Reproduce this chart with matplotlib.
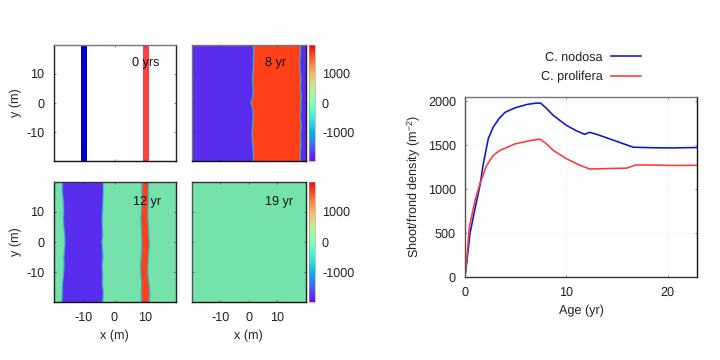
import matplotlib
matplotlib.use("Agg")
import matplotlib.pyplot as plt
import numpy as np
from matplotlib.colors import Normalize, LinearSegmentedColormap
from matplotlib.cm import ScalarMappable

plt.rcParams['font.family'] = ['Liberation Sans', 'DejaVu Sans']
plt.rcParams['font.size'] = 9.1
plt.rcParams['axes.unicode_minus'] = False
plt.rcParams['mathtext.fontset'] = 'custom'
plt.rcParams['mathtext.rm'] = 'Liberation Sans'
plt.rcParams['mathtext.default'] = 'regular'
plt.rcParams['text.hinting'] = 'none'

# --- Line panel data
age_nodosa = [0, 0.16, 0.49, 0.99, 1.48, 1.81, 2.3, 2.8, 3.4, 3.95, 4.9, 6.1, 7.0, 7.47, 8.0, 8.7, 10, 11, 11.8, 12.3, 13, 14.6, 16.6, 18.6, 20.5, 23]
dens_nodosa = [0, 152, 494, 779, 1044, 1291, 1576, 1710, 1810, 1875, 1925, 1965, 1980, 1980, 1925, 1842, 1728, 1665, 1625, 1648, 1625, 1560, 1478, 1472, 1470, 1475]
age_prolifera = [0, 0.16, 0.43, 0.99, 1.48, 2.14, 2.8, 3.45, 4.4, 4.9, 6.5, 7.4, 8.0, 8.7, 10, 11.3, 12.3, 14, 16, 16.8, 18.5, 20.5, 23]
dens_prolifera = [0, 190, 570, 873, 1064, 1272, 1386, 1443, 1488, 1515, 1555, 1570, 1520, 1443, 1348, 1275, 1230, 1235, 1240, 1275, 1275, 1270, 1272]

# --- Map data: front positions along y (rows), densities per band
row_y = [-20, -17, -14, -11, -8, -5, -2, 0, 2, 5, 8, 11, 14, 17, 20]
val_nodosa = -1900
val_prolifera = 1900
val_bare = 0
val_front = -600

# 0 yrs starting strips
strip_nodosa = (-10.9, -8.9)
strip_prolifera = (9.5, 11.2)

# 8 yr fronts
f8_left = [1.7, 1.6, 1.5, 1.2, 1.4, 1.6, 1.5, 0.8, 1.5, 1.6, 1.4, 1.6, 1.7, 1.8, 1.7]
f8_right = [18.1, 18.0, 18.3, 18.1, 18.4, 18.0, 18.3, 18.2, 18.4, 18.1, 18.3, 18.0, 17.9, 18.1, 18.0]

# 12 yr fronts
f12_a = [-17.2, -17.1, -17.0, -16.7, -16.5, -16.6, -16.3, -16.2, -16.3, -16.6, -16.7, -16.6, -16.8, -17.1, -17.0]
f12_b = [-3.8, -3.6, -3.9, -3.8, -4.0, -3.7, -3.9, -4.1, -3.8, -3.9, -4.0, -3.8, -3.7, -3.6, -3.7]
f12_c = [8.9, 8.8, 8.9, 8.7, 8.6, 8.8, 9.0, 9.0, 8.9, 8.8, 8.7, 8.9, 9.1, 9.0, 9.1]
f12_d = [11.5, 11.6, 11.4, 11.0, 11.0, 11.2, 11.4, 11.5, 11.3, 11.2, 11.0, 11.0, 11.2, 11.1, 11.3]

x_ticks = [-10, 0, 10]
y_ticks = [-10, 0, 10]
cbar_ticks = [-1000, 0, 1000]
panel_labels = ["0 yrs", "8 yr", "12 yr", "19 yr"]

W, H = 720, 360
fig = plt.figure(figsize=(7.2, 3.6), dpi=100)

field_cmap = LinearSegmentedColormap.from_list(
    'field', [(0, '#5c22f0'), (0.3, '#2aa8d8'), (0.5, '#74e2ac'), (0.75, '#ffb060'), (1, '#ff3412')])
NORM = Normalize(-2000, 2000)


def px_axes(x0, y0, x1, y1):
    return fig.add_axes([x0 / W, 1 - y1 / H, (x1 - x0) / W, (y1 - y0) / H])


def band_mesh(ax, edges, values, soft=0.4):
    """Gouraud mesh; each front gets a narrow teal transition."""
    rows = np.array(row_y, float)
    cols_x = [np.full_like(rows, -20.0)]
    cols_v = [values[0]]
    for i, e in enumerate(edges):
        e = np.array(e, float)
        cols_x += [e - soft, e, e + soft]
        cols_v += [values[i], val_front, values[i + 1]]
    cols_x.append(np.full_like(rows, 20.0))
    cols_v.append(values[-1])
    X = np.array(cols_x).T
    Y = np.tile(rows[:, None], (1, X.shape[1]))
    C = np.tile(np.array(cols_v, float), (len(rows), 1))
    return ax.pcolormesh(X, Y, C, cmap=field_cmap, norm=NORM, shading='gouraud', rasterized=True)


def style(ax, xlab, ylab, top='#777777', left='#222222', right='#222222'):
    ax.set_xlim(-20, 20)
    ax.set_ylim(-20, 20)
    ax.set_xticks(x_ticks)
    ax.set_yticks(y_ticks)
    ax.tick_params(length=1.5, width=0.4, direction='in', top=True, right=True, pad=6.5, colors='#222222')
    ax.tick_params(labelbottom=xlab, labelleft=ylab)
    for s, c in zip(['top', 'left', 'right', 'bottom'], [top, left, right, '#111111']):
        ax.spines[s].set_color(c)
        ax.spines[s].set_linewidth(1.0)
    if xlab:
        ax.set_xlabel('x (m)', labelpad=4.5, color='#222222')
    if ylab:
        ax.set_ylabel('y (m)', labelpad=3, color='#222222')


# Panel 1
a1 = px_axes(53.5, 44.5, 175.5, 161)
a1.axvspan(*strip_nodosa, color='#0000cc', lw=0)
a1.axvspan(*strip_prolifera, color='#ff4040', lw=0)
style(a1, False, True)

# Panel 2
a2 = px_axes(191.5, 44.5, 306, 161)
band_mesh(a2, [f8_left, f8_right], [val_nodosa, val_prolifera, val_nodosa])
style(a2, False, False, left='#777777')

# Panel 3
a3 = px_axes(53.5, 181.5, 175.5, 302)
band_mesh(a3, [f12_a, f12_b, f12_c, f12_d], [val_bare, val_nodosa, val_bare, val_prolifera, val_bare])
style(a3, True, True, top='#333333')

# Panel 4
a4 = px_axes(191.5, 181.5, 306, 302)
a4.pcolormesh([-20, 20], [-20, 20], [[val_bare]], cmap=field_cmap, norm=NORM)
style(a4, True, False, top='#333333', left='#555555')

for lab, cx, cy in zip(panel_labels, [146, 276, 147, 279], [62, 62, 200.5, 200.5]):
    fig.text(cx / W, 1 - cy / H, lab, ha='center', va='center', color='#111111')

# Colour bars
for y0, y1 in [(44.5, 161), (181.5, 302)]:
    cax = px_axes(309, y0, 315, y1)
    cb = fig.colorbar(ScalarMappable(NORM, 'rainbow'), cax=cax)
    cb.set_ticks(cbar_ticks)
    cb.ax.tick_params(length=0, pad=5, colors='#222222')
    cb.outline.set_linewidth(0.4)
    cb.outline.set_edgecolor('#999999')

# Line panel
ax = px_axes(465, 97, 697, 277)
ax.plot(age_nodosa, dens_nodosa, color='#1010dd', lw=1.15, label='C. nodosa')
ax.plot(age_prolifera, dens_prolifera, color='#ff3838', lw=1.15, label='C. prolifera')
ax.set_xlim(0, 22.9)
ax.set_ylim(0, 2050)
ax.set_xticks([0, 10, 20])
ax.set_yticks([0, 500, 1000, 1500, 2000])
ax.grid(True, color='#f5f5f5', lw=0.5)
ax.set_axisbelow(True)
ax.tick_params(length=1.5, width=0.4, direction='in', top=True, right=True, pad=6.5, colors='#222222')
ax.set_xlabel('Age (yr)', labelpad=4.5, color='#222222')
ax.set_ylabel('Shoot/frond density (m$^{-2}$)', labelpad=4, color='#222222')
for s, c in zip(['top', 'left', 'right', 'bottom'], ['#777777', '#555555', '#111111', '#333333']):
    ax.spines[s].set_color(c)
    ax.spines[s].set_linewidth(1.0)
fig.legend(*ax.get_legend_handles_labels(), loc='upper right', bbox_to_anchor=(641 / W, 1 - 51 / H),
           frameon=False, markerfirst=False, borderaxespad=0, borderpad=0, handlelength=2.4,
           handletextpad=0.63, labelspacing=0.62, labelcolor='#222222')

fig.savefig('out.png', dpi=100)
